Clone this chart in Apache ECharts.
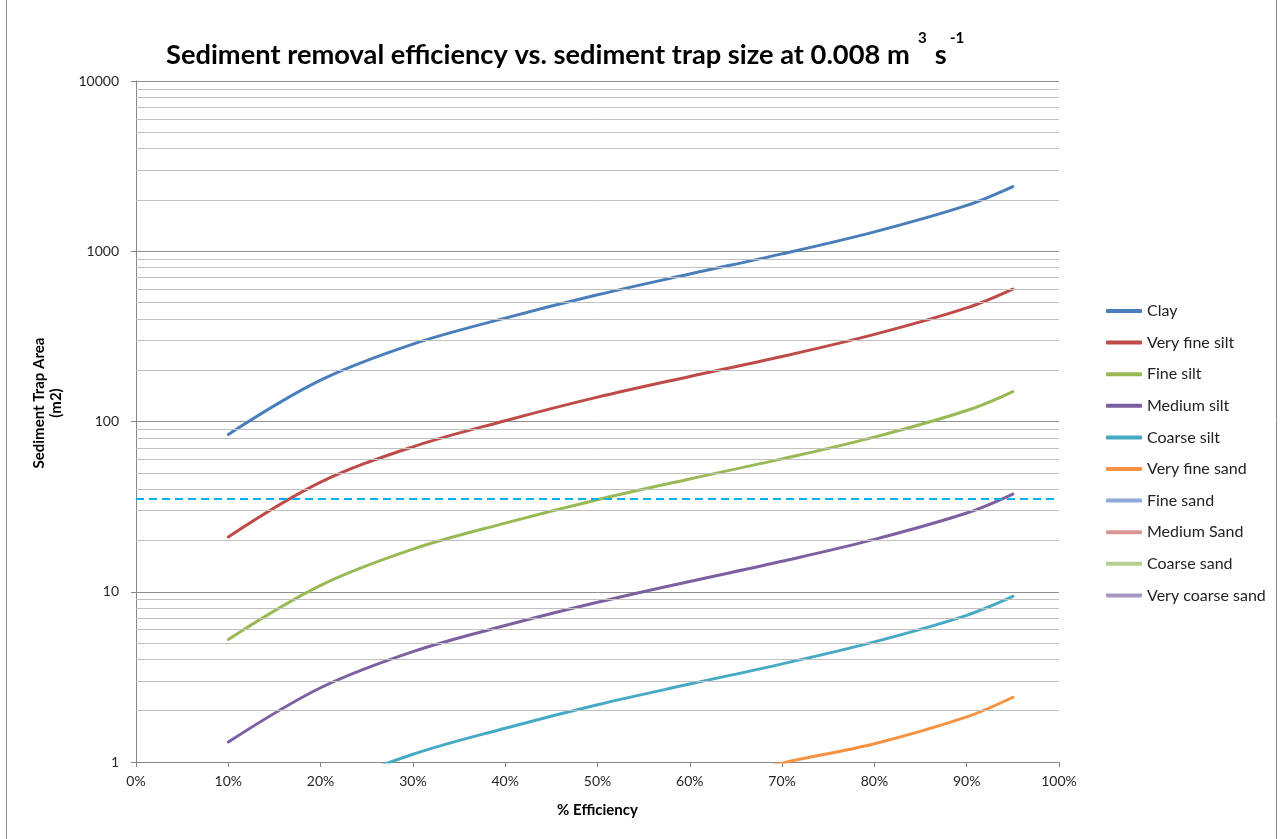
<!DOCTYPE html>
<html>
<head>
<meta charset="utf-8">
<script src="https://cdn.jsdelivr.net/npm/echarts@6/dist/echarts.min.js"></script>
<style>html,body{margin:0;padding:0;background:#fff}#c{width:1281px;height:839px}</style>
</head>
<body>
<div id="c"></div>
<script>
// ---- data ----
const efficiency = [10, 20, 30, 40, 50, 60, 70, 80, 90, 95];
const clay         = [84, 175, 285, 405, 555, 735, 965, 1300, 1860, 2400];
const veryFineSilt = [21, 44, 71, 101, 139, 184, 241, 325, 465, 600];
const fineSilt     = [5.25, 10.9, 17.8, 25.3, 34.7, 46, 60.3, 81, 116, 150];
const mediumSilt   = [1.31, 2.73, 4.45, 6.33, 8.67, 11.5, 15.1, 20.3, 29, 37.5];
const coarseSilt   = [0.33, 0.68, 1.11, 1.58, 2.17, 2.87, 3.77, 5.08, 7.27, 9.38];
const veryFineSand = [0.082, 0.17, 0.28, 0.40, 0.54, 0.72, 0.985, 1.28, 1.84, 2.4];
const fineSand = [];
const mediumSand = [];
const coarseSand = [];
const veryCoarseSand = [];
const dashedLevel = 35;
const seriesNames = ['Clay','Very fine silt','Fine silt','Medium silt','Coarse silt','Very fine sand','Fine sand','Medium Sand','Coarse sand','Very coarse sand'];
const seriesValues = [clay, veryFineSilt, fineSilt, mediumSilt, coarseSilt, veryFineSand, fineSand, mediumSand, coarseSand, veryCoarseSand];
const seriesColors = ['#4A7EBB','#BE4B48','#98B954','#7D60A0','#46AAC5','#F69240','#8DA9D8','#D99694','#B5CF8F','#A898C4'];
const minorGridValues = [2,3,4,5,6,7,8,9,20,30,40,50,60,70,80,90,200,300,400,500,600,700,800,900,2000,3000,4000,5000,6000,7000,8000,9000];

const FONT = 'Lato, "Open Sans", sans-serif';
const chart = echarts.init(document.getElementById('c'));

const series = [{
  type: 'line', name: '_grid', data: [], z: 0, silent: true,
  markLine: {
    silent: true, symbol: 'none', animation: false,
    label: {show: false},
    emphasis: {disabled: true},
    data: minorGridValues.map(v => ({yAxis: v, lineStyle: {color: '#c0c0c0', width: 1, type: 'solid'}}))
      .concat([{yAxis: dashedLevel, lineStyle: {color: '#00B0F0', width: 2, type: [8, 5]}}])
  }
}];
seriesNames.forEach((n, i) => {
  series.push({
    type: 'line', name: n, z: 3,
    data: seriesValues[i].map((v, j) => [efficiency[j], v]),
    smooth: 0.35, showSymbol: false, symbol: 'none',
    lineStyle: {color: seriesColors[i], width: 3, cap: 'round'},
    itemStyle: {color: seriesColors[i]},
    clip: true, animation: false
  });
});

chart.setOption({
  animation: false,
  backgroundColor: '#fff',
  title: {
    text: 'Sediment removal efficiency vs. sediment trap size at 0.008 m{gap|}s',
    left: 161, top: 37,
    textStyle: {
      fontFamily: FONT, fontSize: 27.25, fontWeight: 'bold', color: '#000',
      rich: {gap: {width: 25}}
    }
  },
  legend: {
    data: seriesNames, orient: 'vertical', left: 1101, top: 298,
    icon: 'roundRect', itemWidth: 36, itemHeight: 4, itemGap: 15.6, itemTextGap: 4,
    textStyle: {fontFamily: FONT, fontSize: 16, color: '#222'},
    selectedMode: false
  },
  grid: {left: 136, right: 222, top: 81, bottom: 77, containLabel: false},
  xAxis: {
    type: 'value', min: 0, max: 100, interval: 10,
    name: '% Efficiency', nameLocation: 'middle', nameGap: 41,
    nameTextStyle: {fontFamily: FONT, fontSize: 15, fontWeight: 'bold', color: '#000'},
    axisLine: {show: true, lineStyle: {color: '#868686', width: 1}},
    axisTick: {show: true, length: 5, inside: false, lineStyle: {color: '#868686'}},
    axisLabel: {formatter: '{value}%', fontFamily: FONT, fontSize: 14, color: '#262626', margin: 12},
    splitLine: {show: false}
  },
  yAxis: {
    type: 'log', logBase: 10, min: 1, max: 10000,
    axisLine: {show: true, lineStyle: {color: '#868686', width: 1}},
    axisTick: {show: true, length: 5, inside: false, lineStyle: {color: '#868686'}},
    axisLabel: {formatter: v => String(Math.round(v)), fontFamily: FONT, fontSize: 14, color: '#262626', margin: 17},
    splitLine: {show: true, lineStyle: {color: '#8f8f8f', width: 1}},
    minorTick: {show: false}, minorSplitLine: {show: false}
  },
  graphic: [
    {type: 'rect', silent: true, z: -1, shape: {x: 6.5, y: -10, width: 1270, height: 860},
     style: {fill: 'none', stroke: '#8a8a8a', lineWidth: 1}},
    {type: 'text', x: 48, y: 403, rotation: Math.PI / 2, silent: true,
     style: {text: 'Sediment Trap Area\n(m2)', fontFamily: FONT, fontSize: 15, fontWeight: 'bold', fill: '#000',
             align: 'center', verticalAlign: 'middle', lineHeight: 17}},
    {type: 'text', x: 918, y: 31, silent: true,
     style: {text: '3', fontFamily: FONT, fontSize: 15, fontWeight: 'bold', fill: '#000', align: 'left', verticalAlign: 'top'}},
    {type: 'text', x: 950, y: 31, silent: true,
     style: {text: '-1', fontFamily: FONT, fontSize: 15, fontWeight: 'bold', fill: '#000', align: 'left', verticalAlign: 'top'}}
  ],
  series: series
});
</script>
</body>
</html>
